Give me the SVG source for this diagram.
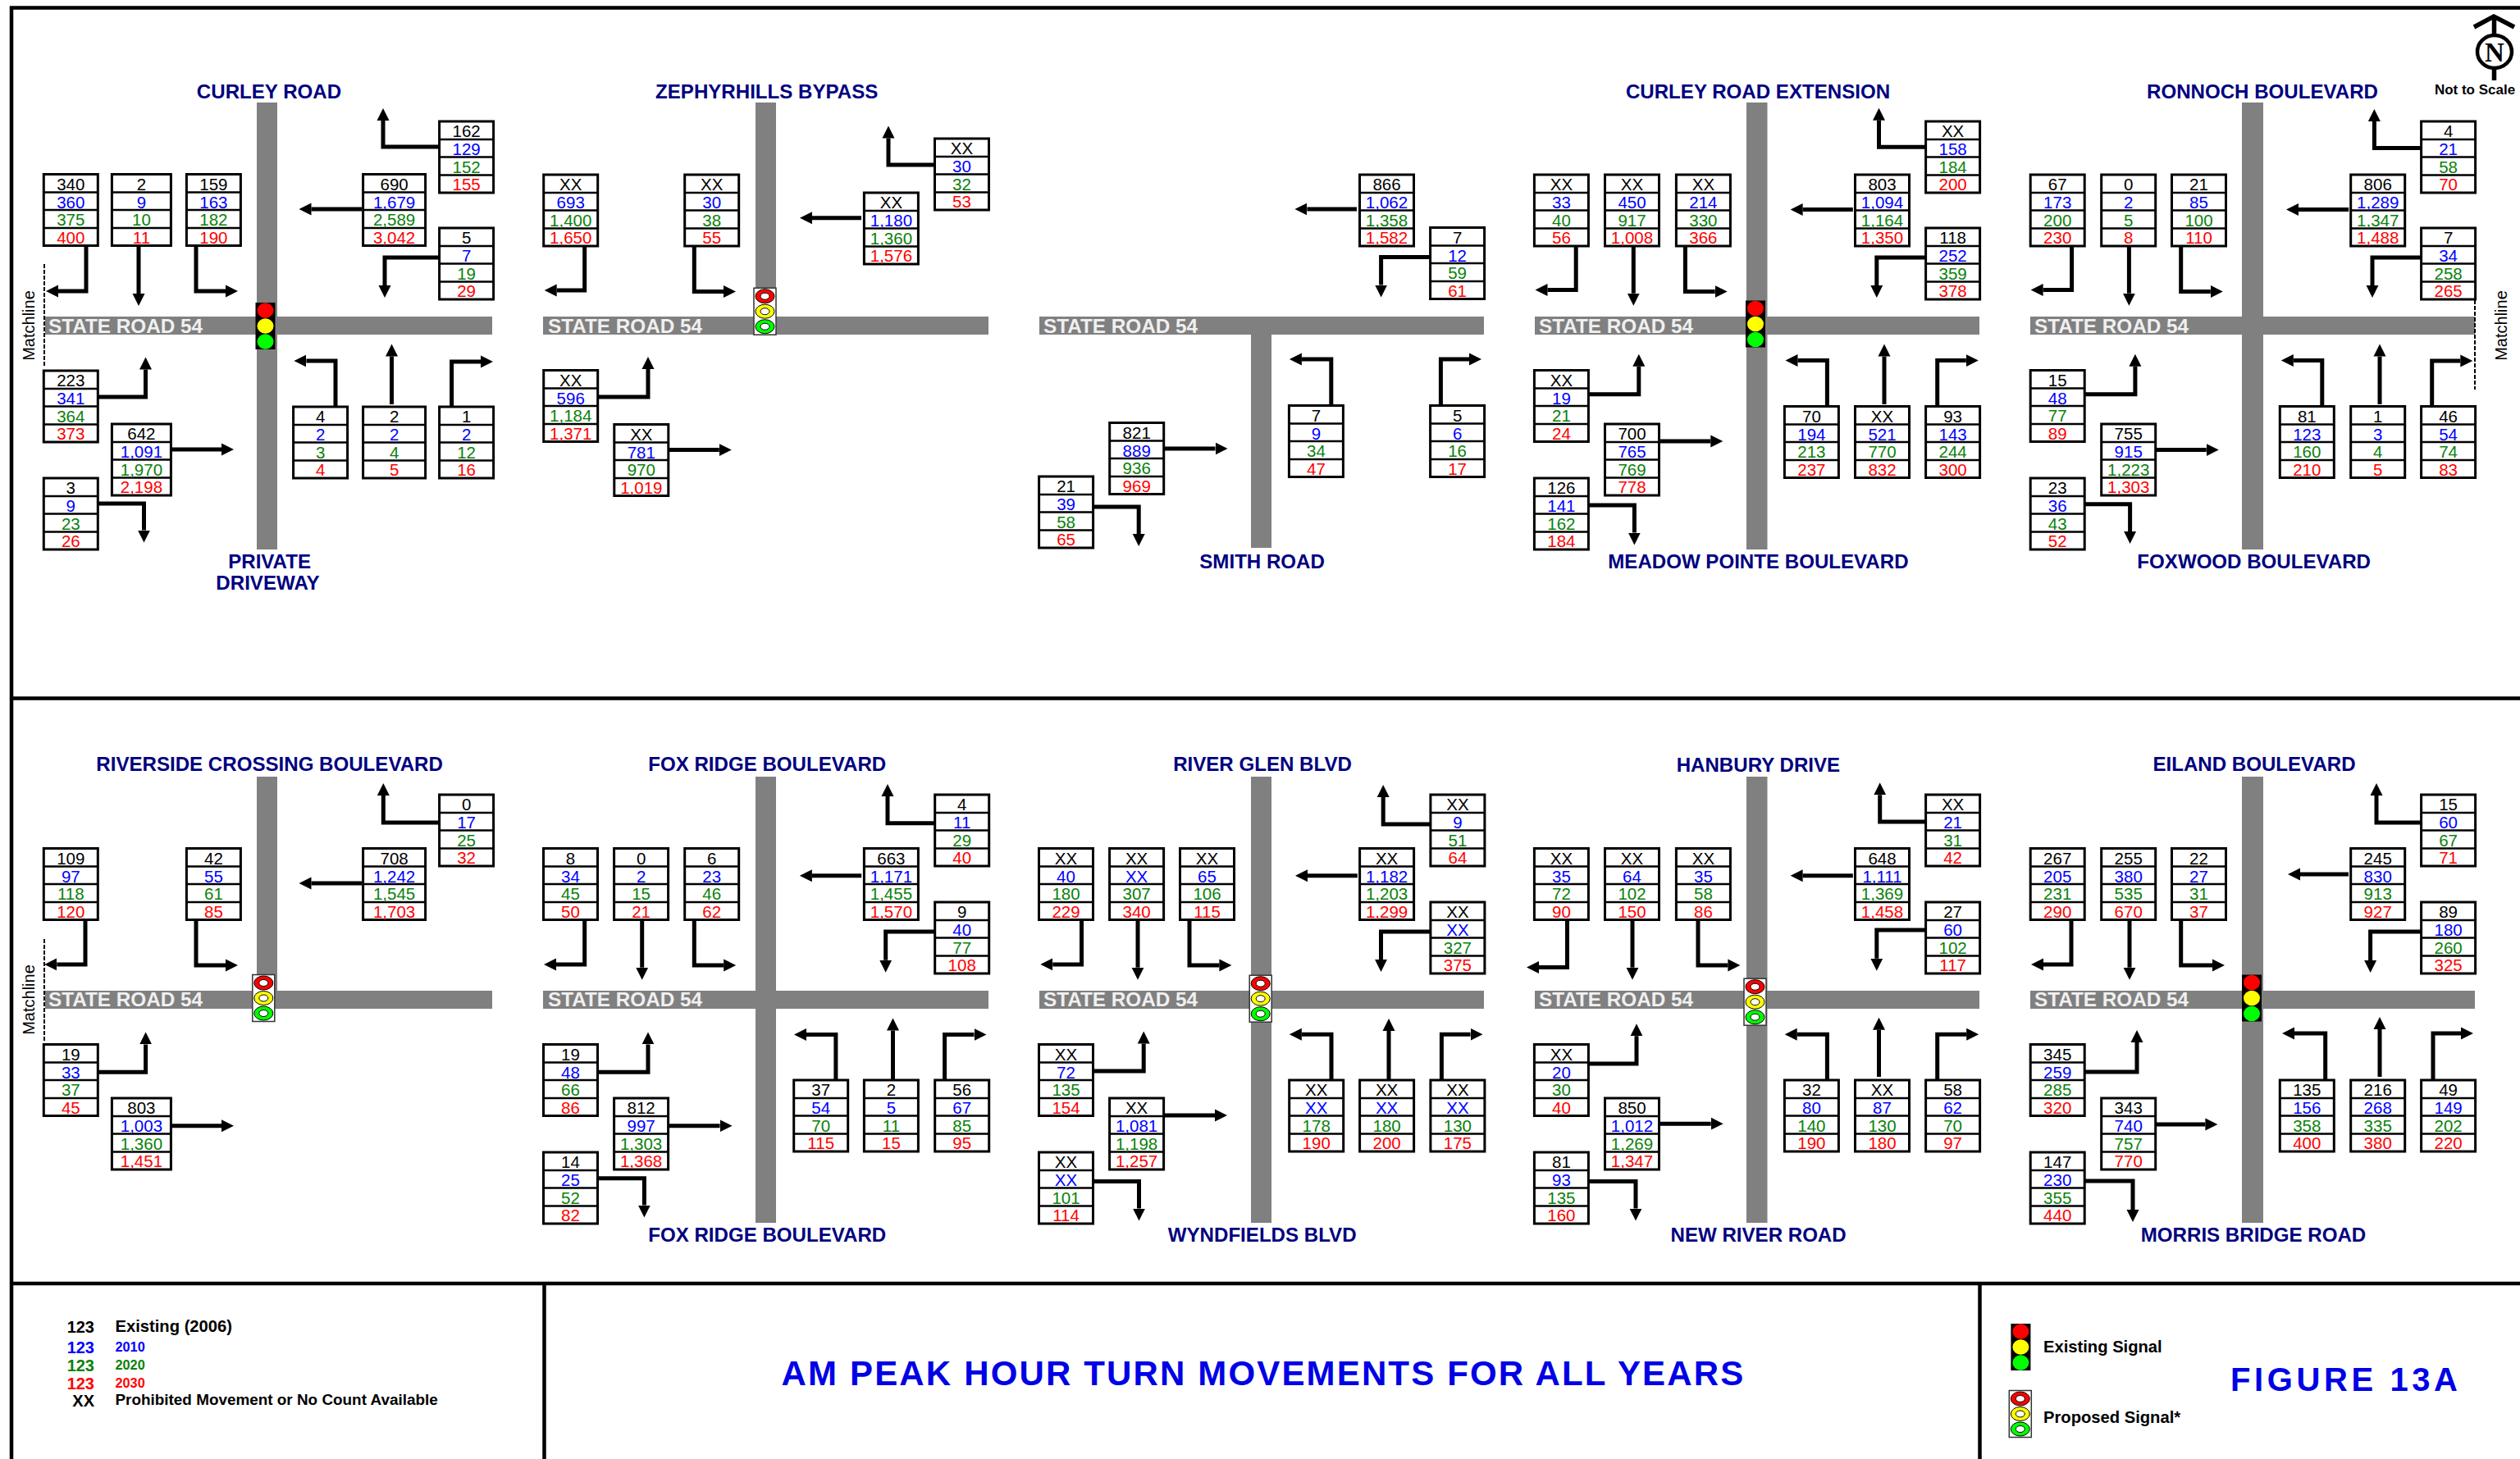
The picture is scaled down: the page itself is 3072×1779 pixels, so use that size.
<svg xmlns="http://www.w3.org/2000/svg" width="3072" height="1779" viewBox="0 0 3072 1779">
<style>
text{font-family:"Liberation Sans",Arial,sans-serif}
#nodes text{font-size:20.5px;text-anchor:middle}
.k{fill:#000}.b{fill:#0000ff}.g{fill:#0a820a}.r{fill:#ff0000}
.bx rect{fill:#fff;stroke:#000;stroke-width:3}
.bx path{fill:none;stroke:#000;stroke-width:2.6}
.road{fill:#808080}
.sr{font-size:24.3px;font-weight:bold;fill:#f0f0f0}
.nm{font-size:24.1px;font-weight:bold;fill:#000080;text-anchor:middle}
.ln{fill:none;stroke:#000;stroke-width:5}
.fr{fill:none;stroke:#000;stroke-width:4.5}
.ml{font-size:20px;fill:#000;text-anchor:middle}
.ds{fill:none;stroke:#000;stroke-width:2;stroke-dasharray:5 2}
.lg{font-weight:bold}
.l1{font-size:20.2px}.l3{font-size:18.9px}.l2{font-size:16.3px}.ln1{font-size:20px;text-anchor:end}
</style>
<defs>
<marker id="ah" markerUnits="userSpaceOnUse" markerWidth="16" markerHeight="16" refX="0" refY="8" orient="auto"><path d="M0 .5L15 8L0 15.5Z" fill="#000"/></marker>
<g id="b" class="bx"><rect x="-33" y="0" width="66" height="87"/><path d="M-33 22H33M-33 43.5H33M-33 65.5H33"/></g>
<g id="c" class="bx"><rect x="-36" y="0" width="72" height="87"/><path d="M-36 22H36M-36 43.5H36M-36 65.5H36"/></g>
<g id="d" class="bx"><rect x="-38" y="0" width="76" height="87"/><path d="M-38 22H38M-38 43.5H38M-38 65.5H38"/></g>
<g id="se"><rect x="-12" y="-28.5" width="24" height="57" fill="#000"/><ellipse cy="-19" rx="10" ry="9.3" fill="#ff0000"/><ellipse rx="10" ry="9.3" fill="#ffff00"/><ellipse cy="19" rx="10" ry="9.3" fill="#00ff00"/></g>
<g id="sp"><rect x="-13.5" y="-28.5" width="27" height="57" fill="#fff" stroke="#333" stroke-width="1.5"/><g stroke="#000" stroke-width="1"><ellipse cy="-18.5" rx="11.5" ry="8.5" fill="#ff0000"/><ellipse rx="11.5" ry="8.5" fill="#ffff00"/><ellipse cy="18.5" rx="11.5" ry="8.5" fill="#00ff00"/><ellipse cy="-18.5" rx="5.5" ry="4" fill="#fff"/><ellipse rx="5.5" ry="4" fill="#fff"/><ellipse cy="18.5" rx="5.5" ry="4" fill="#fff"/></g></g>
</defs>
<rect width="3072" height="1779" fill="#fff"/>
<g id="frame" class="fr"><path class="fr" d="M14 1779V9.5H3072M14 851.5H3072M14 1565H3072M663.5 1565V1779M2413.5 1565V1779"/></g>
<g id="roads">
<rect class="road" x="55" y="386" width="545" height="22"/><rect class="road" x="313" y="125" width="25" height="545"/>
<rect class="road" x="662" y="386" width="543" height="22"/><rect class="road" x="921" y="125" width="25" height="261"/>
<rect class="road" x="1267" y="386" width="542" height="22"/><rect class="road" x="1525" y="408" width="25" height="260"/>
<rect class="road" x="1871" y="386" width="542" height="22"/><rect class="road" x="2129" y="125" width="25.5" height="545"/>
<rect class="road" x="2475" y="386" width="542" height="22"/><rect class="road" x="2733" y="125" width="26" height="545"/>
<rect class="road" x="55" y="1208" width="545" height="22"/><rect class="road" x="313" y="947" width="25" height="261"/>
<rect class="road" x="662" y="1208" width="543" height="22"/><rect class="road" x="921" y="947" width="25" height="544"/>
<rect class="road" x="1267" y="1208" width="542" height="22"/><rect class="road" x="1525" y="947" width="25" height="544"/>
<rect class="road" x="1871" y="1208" width="542" height="22"/><rect class="road" x="2129" y="947" width="25.5" height="544"/>
<rect class="road" x="2475" y="1208" width="542" height="22"/><rect class="road" x="2733" y="947" width="26" height="544"/>
<text class="sr" x="59" y="406">STATE ROAD 54</text><text class="sr" x="668" y="406">STATE ROAD 54</text><text class="sr" x="1272" y="406">STATE ROAD 54</text><text class="sr" x="1876" y="406">STATE ROAD 54</text><text class="sr" x="2480" y="406">STATE ROAD 54</text>
<text class="sr" x="59" y="1227">STATE ROAD 54</text><text class="sr" x="668" y="1227">STATE ROAD 54</text><text class="sr" x="1272" y="1227">STATE ROAD 54</text><text class="sr" x="1876" y="1227">STATE ROAD 54</text><text class="sr" x="2480" y="1227">STATE ROAD 54</text>
</g>
<g id="road-names">
<text class="nm" x="328" y="119.5">CURLEY ROAD</text><text class="nm" x="328.6" y="693">PRIVATE</text><text class="nm" x="326.5" y="719">DRIVEWAY</text>
<text class="nm" x="934.7" y="119.5">ZEPHYRHILLS BYPASS</text>
<text class="nm" x="1538.6" y="693">SMITH ROAD</text>
<text class="nm" x="2143" y="119.5">CURLEY ROAD EXTENSION</text><text class="nm" x="2143.4" y="693">MEADOW POINTE BOULEVARD</text>
<text class="nm" x="2758" y="119.5">RONNOCH BOULEVARD</text><text class="nm" x="2747.7" y="693">FOXWOOD BOULEVARD</text>
<text class="nm" x="328.6" y="940">RIVERSIDE CROSSING BOULEVARD</text>
<text class="nm" x="935.2" y="940">FOX RIDGE BOULEVARD</text><text class="nm" x="935.2" y="1514">FOX RIDGE BOULEVARD</text>
<text class="nm" x="1539" y="940">RIVER GLEN BLVD</text><text class="nm" x="1538.7" y="1514">WYNDFIELDS BLVD</text>
<text class="nm" x="2143.4" y="940.5">HANBURY DRIVE</text><text class="nm" x="2143.6" y="1514">NEW RIVER ROAD</text>
<text class="nm" x="2748" y="940">EILAND BOULEVARD</text><text class="nm" x="2747" y="1514">MORRIS BRIDGE ROAD</text>
</g>
<g id="matchlines">
<text class="ml" transform="translate(42,397) rotate(-90)">Matchline</text><path class="ds" d="M54 322V448"/>
<text class="ml" transform="translate(42,1219) rotate(-90)">Matchline</text><path class="ds" d="M54 1145V1269"/>
<text class="ml" transform="translate(3056,397) rotate(-90)">Matchline</text><path class="ds" d="M3017 366V475"/>
</g>
<g id="connectors">
<path class="ln" marker-end="url(#ah)" d="M536 179H467V147"/><path class="ln" marker-end="url(#ah)" d="M441 255H379.5"/><path class="ln" marker-end="url(#ah)" d="M536 314H469V348"/><path class="ln" marker-end="url(#ah)" d="M105 300V355H71"/><path class="ln" marker-end="url(#ah)" d="M169 300V358"/><path class="ln" marker-end="url(#ah)" d="M239 300V355H275"/><path class="ln" marker-end="url(#ah)" d="M119 484H177.5V450.6"/><path class="ln" marker-end="url(#ah)" d="M208 548H270"/><path class="ln" marker-end="url(#ah)" d="M119 614H175.5V646.6"/><path class="ln" marker-end="url(#ah)" d="M409 496V440H373.4"/><path class="ln" marker-end="url(#ah)" d="M477.5 493V434.5"/><path class="ln" marker-end="url(#ah)" d="M550.6 496V441H586"/>
<path class="ln" marker-end="url(#ah)" d="M1140 201H1083V168.5"/><path class="ln" marker-end="url(#ah)" d="M1050 265.7H990"/><path class="ln" marker-end="url(#ah)" d="M712.7 300V354H678.7"/><path class="ln" marker-end="url(#ah)" d="M846.3 300V355.5H882"/><path class="ln" marker-end="url(#ah)" d="M729 484H790V450"/><path class="ln" marker-end="url(#ah)" d="M814.5 548.6H876.8"/>
<path class="ln" marker-end="url(#ah)" d="M1654 255H1593.4"/><path class="ln" marker-end="url(#ah)" d="M1743.7 313.4H1683.6V347.5"/><path class="ln" marker-end="url(#ah)" d="M1418.5 546.9H1481.5"/><path class="ln" marker-end="url(#ah)" d="M1332.5 617.9H1388.2V651"/><path class="ln" marker-end="url(#ah)" d="M1622.8 494V438H1586.9"/><path class="ln" marker-end="url(#ah)" d="M1756.4 494V438H1791"/>
<path class="ln" marker-end="url(#ah)" d="M2348 179.2H2290.5V146.8"/><path class="ln" marker-end="url(#ah)" d="M2258.8 255.5H2197.6"/><path class="ln" marker-end="url(#ah)" d="M2348 313.9H2287.8V347.9"/><path class="ln" marker-end="url(#ah)" d="M1921.2 300V353.5H1886.5"/><path class="ln" marker-end="url(#ah)" d="M1991.3 300V357.7"/><path class="ln" marker-end="url(#ah)" d="M2054.4 300V355.5H2090.7"/><path class="ln" marker-end="url(#ah)" d="M1936.4 480.8H1997.8V446.8"/><path class="ln" marker-end="url(#ah)" d="M2022.5 538H2085.3"/><path class="ln" marker-end="url(#ah)" d="M1936.4 615.9H1992.4V649.5"/><path class="ln" marker-end="url(#ah)" d="M2227.4 495.5V439.6H2191.5"/><path class="ln" marker-end="url(#ah)" d="M2297 493V434.6"/><path class="ln" marker-end="url(#ah)" d="M2361.7 495.5V439.6H2396.8"/>
<path class="ln" marker-end="url(#ah)" d="M2951.8 180.4H2894.4V148"/><path class="ln" marker-end="url(#ah)" d="M2863.2 255.5H2802"/><path class="ln" marker-end="url(#ah)" d="M2951.8 313.9H2892V347.9"/><path class="ln" marker-end="url(#ah)" d="M2525.6 300V353.5H2490.6"/><path class="ln" marker-end="url(#ah)" d="M2595.4 300V357.7"/><path class="ln" marker-end="url(#ah)" d="M2658.7 300V355.5H2694.8"/><path class="ln" marker-end="url(#ah)" d="M2541.2 480.8H2602.9V446.8"/><path class="ln" marker-end="url(#ah)" d="M2627.7 548.6H2689.7"/><path class="ln" marker-end="url(#ah)" d="M2540 614.7H2596.6V647.9"/><path class="ln" marker-end="url(#ah)" d="M2830.8 495.5V439.6H2795.8"/><path class="ln" marker-end="url(#ah)" d="M2901 493V434.6"/><path class="ln" marker-end="url(#ah)" d="M2964.7 495.5V440H2999.3"/>
<path class="ln" marker-end="url(#ah)" d="M536 1002.9H467.3V970"/><path class="ln" marker-end="url(#ah)" d="M441 1077H379.5"/><path class="ln" marker-end="url(#ah)" d="M104 1122V1175.9H69.3"/><path class="ln" marker-end="url(#ah)" d="M239 1122V1177H275"/><path class="ln" marker-end="url(#ah)" d="M119 1307.3H177.6V1273.4"/><path class="ln" marker-end="url(#ah)" d="M208 1372.7H270"/>
<path class="ln" marker-end="url(#ah)" d="M1139.8 1003.7H1082V971"/><path class="ln" marker-end="url(#ah)" d="M1050.2 1067.8H989.9"/><path class="ln" marker-end="url(#ah)" d="M1139.8 1135.9H1079.7V1170.7"/><path class="ln" marker-end="url(#ah)" d="M712.7 1122V1175.9H678"/><path class="ln" marker-end="url(#ah)" d="M782.7 1122V1179.7"/><path class="ln" marker-end="url(#ah)" d="M846.3 1122V1177H882.2"/><path class="ln" marker-end="url(#ah)" d="M729 1307.3H790V1273.4"/><path class="ln" marker-end="url(#ah)" d="M814.6 1372.7H877.6"/><path class="ln" marker-end="url(#ah)" d="M729 1436.7H785.4V1469.5"/><path class="ln" marker-end="url(#ah)" d="M1018.9 1316.7V1261.6H983"/><path class="ln" marker-end="url(#ah)" d="M1088.5 1316V1256.6"/><path class="ln" marker-end="url(#ah)" d="M1151.6 1316.7V1261.6H1187.5"/>
<path class="ln" marker-end="url(#ah)" d="M1743.6 1004.9H1686.2V972"/><path class="ln" marker-end="url(#ah)" d="M1654.8 1067.8H1594"/><path class="ln" marker-end="url(#ah)" d="M1743.6 1135.9H1683.5V1169.9"/><path class="ln" marker-end="url(#ah)" d="M1318.5 1122V1175.9H1283.3"/><path class="ln" marker-end="url(#ah)" d="M1387 1122V1179.7"/><path class="ln" marker-end="url(#ah)" d="M1450 1122V1177H1486.4"/><path class="ln" marker-end="url(#ah)" d="M1332.5 1306H1394.2V1272.6"/><path class="ln" marker-end="url(#ah)" d="M1418.6 1360H1481"/><path class="ln" marker-end="url(#ah)" d="M1332.5 1440.4H1388.5V1473.6"/><path class="ln" marker-end="url(#ah)" d="M1623 1316.7V1261.2H1586.8"/><path class="ln" marker-end="url(#ah)" d="M1693 1316V1257"/><path class="ln" marker-end="url(#ah)" d="M1757.4 1316.7V1261.2H1792.5"/>
<path class="ln" marker-end="url(#ah)" d="M2348 1002H2291.7V969.3"/><path class="ln" marker-end="url(#ah)" d="M2258.8 1067.8H2197.6"/><path class="ln" marker-end="url(#ah)" d="M2348 1133.9H2287.8V1168.7"/><path class="ln" marker-end="url(#ah)" d="M1910.5 1122V1179.6H1876"/><path class="ln" marker-end="url(#ah)" d="M1990 1122V1179.7"/><path class="ln" marker-end="url(#ah)" d="M2070 1122V1177H2106.4"/><path class="ln" marker-end="url(#ah)" d="M1934.6 1297H1995V1263.2"/><path class="ln" marker-end="url(#ah)" d="M2022.5 1370.2H2085.7"/><path class="ln" marker-end="url(#ah)" d="M1936.4 1440.4H1994V1473.6"/><path class="ln" marker-end="url(#ah)" d="M2227.4 1316.7V1261.2H2190.7"/><path class="ln" marker-end="url(#ah)" d="M2290.5 1313V1255.8"/><path class="ln" marker-end="url(#ah)" d="M2361.7 1316.7V1261.2H2397.2"/>
<path class="ln" marker-end="url(#ah)" d="M2951.8 1003H2897V970"/><path class="ln" marker-end="url(#ah)" d="M2863 1066H2804"/><path class="ln" marker-end="url(#ah)" d="M2951.8 1136H2889.6V1171"/><path class="ln" marker-end="url(#ah)" d="M2525 1122V1176H2491"/><path class="ln" marker-end="url(#ah)" d="M2596 1122V1179.7"/><path class="ln" marker-end="url(#ah)" d="M2658.7 1122V1177H2697"/><path class="ln" marker-end="url(#ah)" d="M2541.2 1307H2605V1271"/><path class="ln" marker-end="url(#ah)" d="M2627.7 1371H2688.4"/><path class="ln" marker-end="url(#ah)" d="M2541.2 1440H2600V1475"/><path class="ln" marker-end="url(#ah)" d="M2834.7 1316.7V1260H2797"/><path class="ln" marker-end="url(#ah)" d="M2901 1313V1255"/><path class="ln" marker-end="url(#ah)" d="M2966 1316.7V1260H3000"/>
</g>
<g id="nodes">
<g id="p1a" transform="translate(86.3,212.5)"><use href="#b"/><text class="k" y="19">340</text><text class="b" y="41">360</text><text class="g" y="62.5">375</text><text class="r" y="84">400</text></g>
<g id="p1b" transform="translate(172.4,212.5)"><use href="#c"/><text class="k" y="19">2</text><text class="b" y="41">9</text><text class="g" y="62.5">10</text><text class="r" y="84">11</text></g>
<g id="p1c" transform="translate(260.4,212.5)"><use href="#b"/><text class="k" y="19">159</text><text class="b" y="41">163</text><text class="g" y="62.5">182</text><text class="r" y="84">190</text></g>
<g id="p1d" transform="translate(480.6,212.5)"><use href="#d"/><text class="k" y="19">690</text><text class="b" y="41">1,679</text><text class="g" y="62.5">2,589</text><text class="r" y="84">3,042</text></g>
<g id="p1e" transform="translate(568.6,148)"><use href="#b"/><text class="k" y="19">162</text><text class="b" y="41">129</text><text class="g" y="62.5">152</text><text class="r" y="84">155</text></g>
<g id="p1f" transform="translate(568.6,278)"><use href="#b"/><text class="k" y="19">5</text><text class="b" y="41">7</text><text class="g" y="62.5">19</text><text class="r" y="84">29</text></g>
<g id="p1g" transform="translate(86.3,452)"><use href="#b"/><text class="k" y="19">223</text><text class="b" y="41">341</text><text class="g" y="62.5">364</text><text class="r" y="84">373</text></g>
<g id="p1h" transform="translate(172.4,517)"><use href="#c"/><text class="k" y="19">642</text><text class="b" y="41">1,091</text><text class="g" y="62.5">1,970</text><text class="r" y="84">2,198</text></g>
<g id="p1i" transform="translate(86.3,583)"><use href="#b"/><text class="k" y="19">3</text><text class="b" y="41">9</text><text class="g" y="62.5">23</text><text class="r" y="84">26</text></g>
<g id="p1j" transform="translate(390.6,496)"><use href="#b"/><text class="k" y="19">4</text><text class="b" y="41">2</text><text class="g" y="62.5">3</text><text class="r" y="84">4</text></g>
<g id="p1k" transform="translate(480.6,496)"><use href="#d"/><text class="k" y="19">2</text><text class="b" y="41">2</text><text class="g" y="62.5">4</text><text class="r" y="84">5</text></g>
<g id="p1l" transform="translate(568.6,496)"><use href="#b"/><text class="k" y="19">1</text><text class="b" y="41">2</text><text class="g" y="62.5">12</text><text class="r" y="84">16</text></g>

<g id="p2a" transform="translate(695.7,213)"><use href="#b"/><text class="k" y="19">XX</text><text class="b" y="41">693</text><text class="g" y="62.5">1,400</text><text class="r" y="84">1,650</text></g>
<g id="p2c" transform="translate(867.7,213)"><use href="#b"/><text class="k" y="19">XX</text><text class="b" y="41">30</text><text class="g" y="62.5">38</text><text class="r" y="84">55</text></g>
<g id="p2d" transform="translate(1086.4,235)"><use href="#b"/><text class="k" y="19">XX</text><text class="b" y="41">1,180</text><text class="g" y="62.5">1,360</text><text class="r" y="84">1,576</text></g>
<g id="p2e" transform="translate(1172.5,169)"><use href="#b"/><text class="k" y="19">XX</text><text class="b" y="41">30</text><text class="g" y="62.5">32</text><text class="r" y="84">53</text></g>
<g id="p2g" transform="translate(695.7,451.5)"><use href="#b"/><text class="k" y="19">XX</text><text class="b" y="41">596</text><text class="g" y="62.5">1,184</text><text class="r" y="84">1,371</text></g>
<g id="p2h" transform="translate(781.8,517.5)"><use href="#b"/><text class="k" y="19">XX</text><text class="b" y="41">781</text><text class="g" y="62.5">970</text><text class="r" y="84">1,019</text></g>

<g id="p3d" transform="translate(1690.5,213)"><use href="#b"/><text class="k" y="19">866</text><text class="b" y="41">1,062</text><text class="g" y="62.5">1,358</text><text class="r" y="84">1,582</text></g>
<g id="p3f" transform="translate(1776.6,277.5)"><use href="#b"/><text class="k" y="19">7</text><text class="b" y="41">12</text><text class="g" y="62.5">59</text><text class="r" y="84">61</text></g>
<g id="p3h" transform="translate(1385.7,515.5)"><use href="#b"/><text class="k" y="19">821</text><text class="b" y="41">889</text><text class="g" y="62.5">936</text><text class="r" y="84">969</text></g>
<g id="p3i" transform="translate(1299.6,581)"><use href="#b"/><text class="k" y="19">21</text><text class="b" y="41">39</text><text class="g" y="62.5">58</text><text class="r" y="84">65</text></g>
<g id="p3j" transform="translate(1604.4,494.5)"><use href="#b"/><text class="k" y="19">7</text><text class="b" y="41">9</text><text class="g" y="62.5">34</text><text class="r" y="84">47</text></g>
<g id="p3l" transform="translate(1776.6,494.5)"><use href="#b"/><text class="k" y="19">5</text><text class="b" y="41">6</text><text class="g" y="62.5">16</text><text class="r" y="84">17</text></g>

<g id="p4a" transform="translate(1903.4,213)"><use href="#b"/><text class="k" y="19">XX</text><text class="b" y="41">33</text><text class="g" y="62.5">40</text><text class="r" y="84">56</text></g>
<g id="p4b" transform="translate(1989.5,213)"><use href="#b"/><text class="k" y="19">XX</text><text class="b" y="41">450</text><text class="g" y="62.5">917</text><text class="r" y="84">1,008</text></g>
<g id="p4c" transform="translate(2076.4,213)"><use href="#b"/><text class="k" y="19">XX</text><text class="b" y="41">214</text><text class="g" y="62.5">330</text><text class="r" y="84">366</text></g>
<g id="p4d" transform="translate(2294.5,213)"><use href="#b"/><text class="k" y="19">803</text><text class="b" y="41">1,094</text><text class="g" y="62.5">1,164</text><text class="r" y="84">1,350</text></g>
<g id="p4e" transform="translate(2380.6,148)"><use href="#b"/><text class="k" y="19">XX</text><text class="b" y="41">158</text><text class="g" y="62.5">184</text><text class="r" y="84">200</text></g>
<g id="p4f" transform="translate(2380.6,278)"><use href="#b"/><text class="k" y="19">118</text><text class="b" y="41">252</text><text class="g" y="62.5">359</text><text class="r" y="84">378</text></g>
<g id="p4g" transform="translate(1903.4,451.5)"><use href="#b"/><text class="k" y="19">XX</text><text class="b" y="41">19</text><text class="g" y="62.5">21</text><text class="r" y="84">24</text></g>
<g id="p4h" transform="translate(1989.5,517)"><use href="#b"/><text class="k" y="19">700</text><text class="b" y="41">765</text><text class="g" y="62.5">769</text><text class="r" y="84">778</text></g>
<g id="p4i" transform="translate(1903.4,583)"><use href="#b"/><text class="k" y="19">126</text><text class="b" y="41">141</text><text class="g" y="62.5">162</text><text class="r" y="84">184</text></g>
<g id="p4j" transform="translate(2208.4,495.5)"><use href="#b"/><text class="k" y="19">70</text><text class="b" y="41">194</text><text class="g" y="62.5">213</text><text class="r" y="84">237</text></g>
<g id="p4k" transform="translate(2294.5,495.5)"><use href="#b"/><text class="k" y="19">XX</text><text class="b" y="41">521</text><text class="g" y="62.5">770</text><text class="r" y="84">832</text></g>
<g id="p4l" transform="translate(2380.6,495.5)"><use href="#b"/><text class="k" y="19">93</text><text class="b" y="41">143</text><text class="g" y="62.5">244</text><text class="r" y="84">300</text></g>

<g id="p5a" transform="translate(2508.2,213)"><use href="#b"/><text class="k" y="19">67</text><text class="b" y="41">173</text><text class="g" y="62.5">200</text><text class="r" y="84">230</text></g>
<g id="p5b" transform="translate(2594.7,213)"><use href="#b"/><text class="k" y="19">0</text><text class="b" y="41">2</text><text class="g" y="62.5">5</text><text class="r" y="84">8</text></g>
<g id="p5c" transform="translate(2680.5,213)"><use href="#b"/><text class="k" y="19">21</text><text class="b" y="41">85</text><text class="g" y="62.5">100</text><text class="r" y="84">110</text></g>
<g id="p5d" transform="translate(2898.7,213)"><use href="#b"/><text class="k" y="19">806</text><text class="b" y="41">1,289</text><text class="g" y="62.5">1,347</text><text class="r" y="84">1,488</text></g>
<g id="p5e" transform="translate(2984.6,148)"><use href="#b"/><text class="k" y="19">4</text><text class="b" y="41">21</text><text class="g" y="62.5">58</text><text class="r" y="84">70</text></g>
<g id="p5f" transform="translate(2984.6,278)"><use href="#b"/><text class="k" y="19">7</text><text class="b" y="41">34</text><text class="g" y="62.5">258</text><text class="r" y="84">265</text></g>
<g id="p5g" transform="translate(2508.2,451.5)"><use href="#b"/><text class="k" y="19">15</text><text class="b" y="41">48</text><text class="g" y="62.5">77</text><text class="r" y="84">89</text></g>
<g id="p5h" transform="translate(2594.7,517)"><use href="#b"/><text class="k" y="19">755</text><text class="b" y="41">915</text><text class="g" y="62.5">1,223</text><text class="r" y="84">1,303</text></g>
<g id="p5i" transform="translate(2508.2,583)"><use href="#b"/><text class="k" y="19">23</text><text class="b" y="41">36</text><text class="g" y="62.5">43</text><text class="r" y="84">52</text></g>
<g id="p5j" transform="translate(2812.3,495.5)"><use href="#b"/><text class="k" y="19">81</text><text class="b" y="41">123</text><text class="g" y="62.5">160</text><text class="r" y="84">210</text></g>
<g id="p5k" transform="translate(2898.7,495.5)"><use href="#b"/><text class="k" y="19">1</text><text class="b" y="41">3</text><text class="g" y="62.5">4</text><text class="r" y="84">5</text></g>
<g id="p5l" transform="translate(2984.6,495.5)"><use href="#b"/><text class="k" y="19">46</text><text class="b" y="41">54</text><text class="g" y="62.5">74</text><text class="r" y="84">83</text></g>

<g id="p6a" transform="translate(86.3,1034.5)"><use href="#b"/><text class="k" y="19">109</text><text class="b" y="41">97</text><text class="g" y="62.5">118</text><text class="r" y="84">120</text></g>
<g id="p6c" transform="translate(260.4,1034.5)"><use href="#b"/><text class="k" y="19">42</text><text class="b" y="41">55</text><text class="g" y="62.5">61</text><text class="r" y="84">85</text></g>
<g id="p6d" transform="translate(480.6,1034.5)"><use href="#d"/><text class="k" y="19">708</text><text class="b" y="41">1,242</text><text class="g" y="62.5">1,545</text><text class="r" y="84">1,703</text></g>
<g id="p6e" transform="translate(568.6,969)"><use href="#b"/><text class="k" y="19">0</text><text class="b" y="41">17</text><text class="g" y="62.5">25</text><text class="r" y="84">32</text></g>
<g id="p6g" transform="translate(86.3,1273.5)"><use href="#b"/><text class="k" y="19">19</text><text class="b" y="41">33</text><text class="g" y="62.5">37</text><text class="r" y="84">45</text></g>
<g id="p6h" transform="translate(172.4,1339)"><use href="#c"/><text class="k" y="19">803</text><text class="b" y="41">1,003</text><text class="g" y="62.5">1,360</text><text class="r" y="84">1,451</text></g>

<g id="p7a" transform="translate(695.5,1034.5)"><use href="#b"/><text class="k" y="19">8</text><text class="b" y="41">34</text><text class="g" y="62.5">45</text><text class="r" y="84">50</text></g>
<g id="p7b" transform="translate(781.6,1034.5)"><use href="#b"/><text class="k" y="19">0</text><text class="b" y="41">2</text><text class="g" y="62.5">15</text><text class="r" y="84">21</text></g>
<g id="p7c" transform="translate(867.7,1034.5)"><use href="#b"/><text class="k" y="19">6</text><text class="b" y="41">23</text><text class="g" y="62.5">46</text><text class="r" y="84">62</text></g>
<g id="p7d" transform="translate(1086.4,1034.5)"><use href="#b"/><text class="k" y="19">663</text><text class="b" y="41">1,171</text><text class="g" y="62.5">1,455</text><text class="r" y="84">1,570</text></g>
<g id="p7e" transform="translate(1172.7,969)"><use href="#b"/><text class="k" y="19">4</text><text class="b" y="41">11</text><text class="g" y="62.5">29</text><text class="r" y="84">40</text></g>
<g id="p7f" transform="translate(1172.7,1100)"><use href="#b"/><text class="k" y="19">9</text><text class="b" y="41">40</text><text class="g" y="62.5">77</text><text class="r" y="84">108</text></g>
<g id="p7g" transform="translate(695.5,1273.5)"><use href="#b"/><text class="k" y="19">19</text><text class="b" y="41">48</text><text class="g" y="62.5">66</text><text class="r" y="84">86</text></g>
<g id="p7h" transform="translate(781.6,1339)"><use href="#b"/><text class="k" y="19">812</text><text class="b" y="41">997</text><text class="g" y="62.5">1,303</text><text class="r" y="84">1,368</text></g>
<g id="p7i" transform="translate(695.5,1405)"><use href="#b"/><text class="k" y="19">14</text><text class="b" y="41">25</text><text class="g" y="62.5">52</text><text class="r" y="84">82</text></g>
<g id="p7j" transform="translate(1000.7,1317)"><use href="#b"/><text class="k" y="19">37</text><text class="b" y="41">54</text><text class="g" y="62.5">70</text><text class="r" y="84">115</text></g>
<g id="p7k" transform="translate(1086.4,1317)"><use href="#b"/><text class="k" y="19">2</text><text class="b" y="41">5</text><text class="g" y="62.5">11</text><text class="r" y="84">15</text></g>
<g id="p7l" transform="translate(1172.7,1317)"><use href="#b"/><text class="k" y="19">56</text><text class="b" y="41">67</text><text class="g" y="62.5">85</text><text class="r" y="84">95</text></g>

<g id="p8a" transform="translate(1299.5,1034.5)"><use href="#b"/><text class="k" y="19">XX</text><text class="b" y="41">40</text><text class="g" y="62.5">180</text><text class="r" y="84">229</text></g>
<g id="p8b" transform="translate(1385.6,1034.5)"><use href="#b"/><text class="k" y="19">XX</text><text class="b" y="41">XX</text><text class="g" y="62.5">307</text><text class="r" y="84">340</text></g>
<g id="p8c" transform="translate(1471.5,1034.5)"><use href="#b"/><text class="k" y="19">XX</text><text class="b" y="41">65</text><text class="g" y="62.5">106</text><text class="r" y="84">115</text></g>
<g id="p8d" transform="translate(1690.6,1034.5)"><use href="#b"/><text class="k" y="19">XX</text><text class="b" y="41">1,182</text><text class="g" y="62.5">1,203</text><text class="r" y="84">1,299</text></g>
<g id="p8e" transform="translate(1776.9,969)"><use href="#b"/><text class="k" y="19">XX</text><text class="b" y="41">9</text><text class="g" y="62.5">51</text><text class="r" y="84">64</text></g>
<g id="p8f" transform="translate(1776.9,1100)"><use href="#b"/><text class="k" y="19">XX</text><text class="b" y="41">XX</text><text class="g" y="62.5">327</text><text class="r" y="84">375</text></g>
<g id="p8g" transform="translate(1299.5,1273.5)"><use href="#b"/><text class="k" y="19">XX</text><text class="b" y="41">72</text><text class="g" y="62.5">135</text><text class="r" y="84">154</text></g>
<g id="p8h" transform="translate(1385.6,1339)"><use href="#b"/><text class="k" y="19">XX</text><text class="b" y="41">1,081</text><text class="g" y="62.5">1,198</text><text class="r" y="84">1,257</text></g>
<g id="p8i" transform="translate(1299.5,1405)"><use href="#b"/><text class="k" y="19">XX</text><text class="b" y="41">XX</text><text class="g" y="62.5">101</text><text class="r" y="84">114</text></g>
<g id="p8j" transform="translate(1604.7,1317)"><use href="#b"/><text class="k" y="19">XX</text><text class="b" y="41">XX</text><text class="g" y="62.5">178</text><text class="r" y="84">190</text></g>
<g id="p8k" transform="translate(1690.6,1317)"><use href="#b"/><text class="k" y="19">XX</text><text class="b" y="41">XX</text><text class="g" y="62.5">180</text><text class="r" y="84">200</text></g>
<g id="p8l" transform="translate(1776.9,1317)"><use href="#b"/><text class="k" y="19">XX</text><text class="b" y="41">XX</text><text class="g" y="62.5">130</text><text class="r" y="84">175</text></g>

<g id="p9a" transform="translate(1903.4,1034.5)"><use href="#b"/><text class="k" y="19">XX</text><text class="b" y="41">35</text><text class="g" y="62.5">72</text><text class="r" y="84">90</text></g>
<g id="p9b" transform="translate(1989.5,1034.5)"><use href="#b"/><text class="k" y="19">XX</text><text class="b" y="41">64</text><text class="g" y="62.5">102</text><text class="r" y="84">150</text></g>
<g id="p9c" transform="translate(2076.4,1034.5)"><use href="#b"/><text class="k" y="19">XX</text><text class="b" y="41">35</text><text class="g" y="62.5">58</text><text class="r" y="84">86</text></g>
<g id="p9d" transform="translate(2294.5,1034.5)"><use href="#b"/><text class="k" y="19">648</text><text class="b" y="41">1,111</text><text class="g" y="62.5">1,369</text><text class="r" y="84">1,458</text></g>
<g id="p9e" transform="translate(2380.6,969)"><use href="#b"/><text class="k" y="19">XX</text><text class="b" y="41">21</text><text class="g" y="62.5">31</text><text class="r" y="84">42</text></g>
<g id="p9f" transform="translate(2380.6,1100)"><use href="#b"/><text class="k" y="19">27</text><text class="b" y="41">60</text><text class="g" y="62.5">102</text><text class="r" y="84">117</text></g>
<g id="p9g" transform="translate(1903.4,1273.5)"><use href="#b"/><text class="k" y="19">XX</text><text class="b" y="41">20</text><text class="g" y="62.5">30</text><text class="r" y="84">40</text></g>
<g id="p9h" transform="translate(1989.5,1339)"><use href="#b"/><text class="k" y="19">850</text><text class="b" y="41">1,012</text><text class="g" y="62.5">1,269</text><text class="r" y="84">1,347</text></g>
<g id="p9i" transform="translate(1903.4,1405)"><use href="#b"/><text class="k" y="19">81</text><text class="b" y="41">93</text><text class="g" y="62.5">135</text><text class="r" y="84">160</text></g>
<g id="p9j" transform="translate(2208.4,1317)"><use href="#b"/><text class="k" y="19">32</text><text class="b" y="41">80</text><text class="g" y="62.5">140</text><text class="r" y="84">190</text></g>
<g id="p9k" transform="translate(2294.5,1317)"><use href="#b"/><text class="k" y="19">XX</text><text class="b" y="41">87</text><text class="g" y="62.5">130</text><text class="r" y="84">180</text></g>
<g id="p9l" transform="translate(2380.6,1317)"><use href="#b"/><text class="k" y="19">58</text><text class="b" y="41">62</text><text class="g" y="62.5">70</text><text class="r" y="84">97</text></g>

<g id="p10a" transform="translate(2508.2,1034.5)"><use href="#b"/><text class="k" y="19">267</text><text class="b" y="41">205</text><text class="g" y="62.5">231</text><text class="r" y="84">290</text></g>
<g id="p10b" transform="translate(2594.7,1034.5)"><use href="#b"/><text class="k" y="19">255</text><text class="b" y="41">380</text><text class="g" y="62.5">535</text><text class="r" y="84">670</text></g>
<g id="p10c" transform="translate(2680.5,1034.5)"><use href="#b"/><text class="k" y="19">22</text><text class="b" y="41">27</text><text class="g" y="62.5">31</text><text class="r" y="84">37</text></g>
<g id="p10d" transform="translate(2898.7,1034.5)"><use href="#b"/><text class="k" y="19">245</text><text class="b" y="41">830</text><text class="g" y="62.5">913</text><text class="r" y="84">927</text></g>
<g id="p10e" transform="translate(2984.6,969)"><use href="#b"/><text class="k" y="19">15</text><text class="b" y="41">60</text><text class="g" y="62.5">67</text><text class="r" y="84">71</text></g>
<g id="p10f" transform="translate(2984.6,1100)"><use href="#b"/><text class="k" y="19">89</text><text class="b" y="41">180</text><text class="g" y="62.5">260</text><text class="r" y="84">325</text></g>
<g id="p10g" transform="translate(2508.2,1273.5)"><use href="#b"/><text class="k" y="19">345</text><text class="b" y="41">259</text><text class="g" y="62.5">285</text><text class="r" y="84">320</text></g>
<g id="p10h" transform="translate(2594.7,1339)"><use href="#b"/><text class="k" y="19">343</text><text class="b" y="41">740</text><text class="g" y="62.5">757</text><text class="r" y="84">770</text></g>
<g id="p10i" transform="translate(2508.2,1405)"><use href="#b"/><text class="k" y="19">147</text><text class="b" y="41">230</text><text class="g" y="62.5">355</text><text class="r" y="84">440</text></g>
<g id="p10j" transform="translate(2812.3,1317)"><use href="#b"/><text class="k" y="19">135</text><text class="b" y="41">156</text><text class="g" y="62.5">358</text><text class="r" y="84">400</text></g>
<g id="p10k" transform="translate(2898.7,1317)"><use href="#b"/><text class="k" y="19">216</text><text class="b" y="41">268</text><text class="g" y="62.5">335</text><text class="r" y="84">380</text></g>
<g id="p10l" transform="translate(2984.6,1317)"><use href="#b"/><text class="k" y="19">49</text><text class="b" y="41">149</text><text class="g" y="62.5">202</text><text class="r" y="84">220</text></g>
</g>
<g id="signals">
<use href="#se" x="323.5" y="397.5"/><use href="#sp" x="932.5" y="379.7"/><use href="#se" x="2140" y="395"/>
<use href="#sp" x="321.3" y="1217"/><use href="#sp" x="1536.7" y="1217.7"/><use href="#sp" x="2139.5" y="1221.7"/><use href="#se" x="2745" y="1217"/>
</g>
<g id="north-arrow">
<path fill="none" stroke="#000" stroke-width="5.5" d="M3016 33L3040 20L3065 33M3040.5 20V43M3040.5 83V98"/>
<ellipse cx="3041" cy="63" rx="21" ry="20" fill="none" stroke="#000" stroke-width="4.5"/>
<text x="3041" y="75" font-size="33" font-weight="bold" text-anchor="middle" style="font-family:'Liberation Serif',serif">N</text>
<text x="3017" y="115" font-size="17" font-weight="bold" text-anchor="middle">Not to Scale</text>
</g>
<g id="legend" class="lg">
<text class="ln1 k" x="115" y="1625">123</text><text class="l1 k" x="140.5" y="1624">Existing (2006)</text>
<text class="ln1 b" x="115" y="1650">123</text><text class="l2 b" x="140.5" y="1648">2010</text>
<text class="ln1 g" x="115" y="1672">123</text><text class="l2 g" x="140.5" y="1670">2020</text>
<text class="ln1 r" x="115" y="1694">123</text><text class="l2 r" x="140.5" y="1692">2030</text>
<text class="ln1 k" x="115" y="1715">XX</text><text class="l3 k" x="140.5" y="1713">Prohibited Movement or No Count Available</text>
</g>
<g id="signal-key" class="lg">
<use href="#se" x="2463.4" y="1642.5"/><text class="l1 k" x="2491" y="1649">Existing Signal</text>
<use href="#sp" x="2462.8" y="1724"/><text class="l1 k" x="2491" y="1735">Proposed Signal*</text>
</g>
<g id="titles" font-weight="bold" fill="#0000e6">
<text x="1540" y="1689" font-size="42" letter-spacing="2.15" text-anchor="middle">AM PEAK HOUR TURN MOVEMENTS FOR ALL YEARS</text>
<text x="2719" y="1696" font-size="40" letter-spacing="4.6">FIGURE 13A</text>
</g>
</svg>
